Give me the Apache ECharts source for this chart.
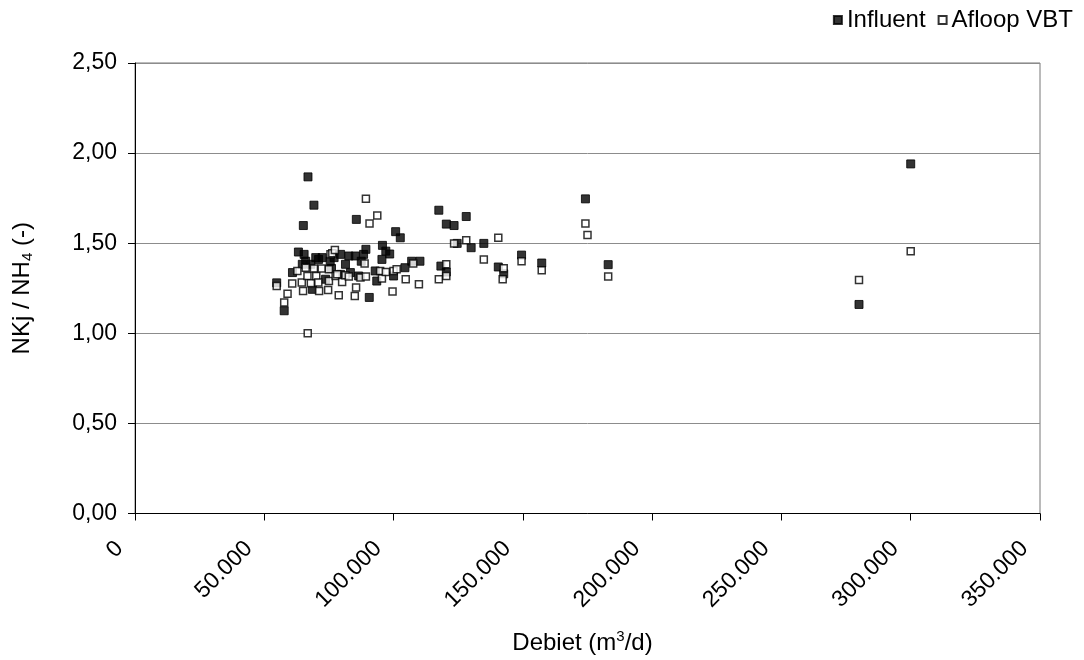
<!DOCTYPE html>
<html>
<head>
<meta charset="utf-8">
<script src="https://cdn.jsdelivr.net/npm/echarts@6/dist/echarts.min.js"></script>
<style>
  html, body { margin: 0; padding: 0; background: #fff; }
  #chart { width: 1084px; height: 660px; }
</style>
</head>
<body>
<div id="chart"></div>
<script>
// Debiet (m3/d) vs. NKj/NH4 ratio
const seriesNames = ['Influent', 'Afloop VBT'];

const influent = [
  [54800,1.28],[57700,1.125],[60900,1.337],[63200,1.451],[65100,1.598],[65400,1.438],
  [66900,1.868],[69200,1.711],[64700,1.383],[68000,1.383],[68600,1.244],[69900,1.42],
  [72400,1.42],[73700,1.30],[79500,1.438],[79500,1.327],[81400,1.383],[82700,1.429],
  [83300,1.337],[85200,1.429],[85600,1.632],[86500,1.318],[88400,1.438],[89300,1.466],
  [90600,1.199],[92900,1.346],[93500,1.29],[95500,1.41],[95700,1.488],[97000,1.456],
  [100000,1.318],[100800,1.564],[102600,1.53],[104400,1.364],[107000,1.40],[110200,1.40],
  [117500,1.683],[118300,1.373],[120400,1.606],[120400,1.34],[123400,1.598],[124600,1.499],
  [128100,1.648],[130000,1.475],[134900,1.499],[140500,1.368],[142600,1.33],[149500,1.434],
  [157300,1.39],[174200,1.746],[183000,1.381],[280000,1.16],[300000,1.94],
  [71000,1.41],[75500,1.40],[77000,1.42],[66000,1.40],[76000,1.36],[87500,1.40],[98500,1.44]
];

const afloopVBT = [
  [54800,1.263],[57700,1.171],[59000,1.22],[60800,1.276],[62800,1.346],[64500,1.282],
  [65000,1.235],[66000,1.364],[66700,1.318],[66800,1.0],[68000,1.278],[69200,1.359],
  [70100,1.318],[70900,1.282],[71200,1.235],[72200,1.359],[74700,1.24],[75000,1.355],
  [75000,1.29],[75600,1.438],[76300,1.444],[77300,1.462],[77600,1.318],[78200,1.327],
  [78800,1.211],[80100,1.285],[81400,1.322],[82700,1.315],[85000,1.207],[85500,1.254],
  [87200,1.309],[88800,1.388],[89300,1.315],[89300,1.746],[90700,1.61],[93700,1.654],
  [94800,1.346],[95500,1.304],[97000,1.34],[99600,1.232],[100000,1.346],[101200,1.355],
  [104700,1.30],[107600,1.388],[109800,1.272],[117500,1.30],[120400,1.318],[120400,1.383],
  [123400,1.499],[128100,1.517],[134900,1.409],[140500,1.53],[142600,1.361],[142200,1.30],
  [149500,1.40],[157300,1.35],[174200,1.61],[175000,1.545],[183000,1.315],[280000,1.296],
  [300000,1.456]
];

const xTicks = { min: 0, max: 350000, interval: 50000 };
const yTicks = { min: 0, max: 2.5, interval: 0.5 };

const FONT = 'Liberation Sans, Arial, sans-serif';
const chart = echarts.init(document.getElementById('chart'));

chart.setOption({
  backgroundColor: '#ffffff',
  animation: false,
  textStyle: { fontFamily: FONT, color: '#000' },
  legend: {
    right: 6, top: 3,
    itemWidth: 8, itemHeight: 8, itemGap: 12,
    textStyle: { fontFamily: FONT, fontSize: 24, color: '#000' },
    data: [
      { name: seriesNames[0], icon: 'rect' },
      { name: seriesNames[1], icon: 'rect' }
    ]
  },
  grid: {
    left: 135, right: 44, top: 63, bottom: 145,
    show: true, borderColor: '#777', borderWidth: 1
  },
  xAxis: {
    type: 'value',
    min: xTicks.min, max: xTicks.max, interval: xTicks.interval,
    name: '{n|Debiet (m}{s|3}{n|/d)}',
    nameLocation: 'middle', nameGap: 116,
    nameTextStyle: {
      padding: [0, 10, 0, 0],
      rich: {
        n: { fontFamily: FONT, fontSize: 24, color: '#000' },
        s: { fontFamily: FONT, fontSize: 15, color: '#000', verticalAlign: 'top', padding: [0, 0, 12, 0] }
      }
    },
    axisLine: { show: true, lineStyle: { color: '#000', width: 1 } },
    axisTick: { show: true, length: 7, lineStyle: { color: '#000' } },
    splitLine: { show: false },
    axisLabel: {
      rotate: 45, margin: 16, padding: [0, 22, 0, 0],
      fontSize: 23, color: '#000', fontFamily: FONT,
      formatter: v => v === 0 ? '0' : (v / 1000).toFixed(0) + '.000'
    }
  },
  yAxis: {
    type: 'value',
    min: yTicks.min, max: yTicks.max, interval: yTicks.interval,
    name: '{n|NKj / NH}{s|4}{n| (-)}',
    nameLocation: 'middle', nameGap: 100, nameRotate: 90,
    nameTextStyle: {
      rich: {
        n: { fontFamily: FONT, fontSize: 24, color: '#000' },
        s: { fontFamily: FONT, fontSize: 15, color: '#000', verticalAlign: 'bottom', padding: [10, 0, 0, 0] }
      }
    },
    axisLine: { show: true, lineStyle: { color: '#000', width: 1 } },
    axisTick: { show: true, length: 7, lineStyle: { color: '#000' } },
    splitLine: { show: true, lineStyle: { color: '#8c8c8c', width: 1 } },
    axisLabel: {
      margin: 18, fontSize: 23, color: '#000', fontFamily: FONT,
      formatter: v => v.toFixed(2).replace('.', ',')
    }
  },
  series: [
    {
      name: seriesNames[0], type: 'scatter', symbol: 'rect', symbolSize: 8,
      itemStyle: { color: '#000', borderColor: '#000', borderWidth: 1 },
      data: influent
    },
    {
      name: seriesNames[1], type: 'scatter', symbol: 'rect', symbolSize: 7,
      itemStyle: { color: '#fff', borderColor: '#000', borderWidth: 1.5 },
      data: afloopVBT
    }
  ]
});
</script>
</body>
</html>
